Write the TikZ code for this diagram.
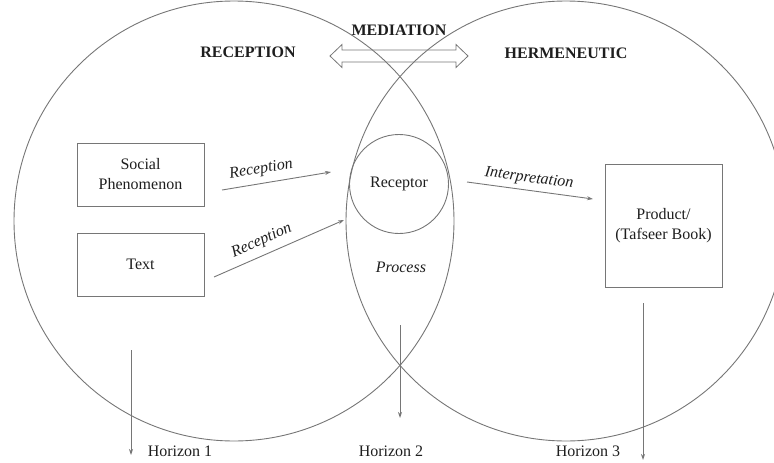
\documentclass[tikz,border=0pt]{standalone}
\usepackage{fontspec}
\setmainfont{Liberation Serif}
\usetikzlibrary{arrows.meta}
\definecolor{ln}{HTML}{767676}
\definecolor{tx}{HTML}{1E1E1E}
\begin{document}
\begin{tikzpicture}[x=1pt,y=-1pt,
  every node/.style={text=tx, font=\fontsize{16}{20}\selectfont},
  bigc/.style={circle, draw=ln, line width=0.9pt, minimum size=440pt, inner sep=0pt},
  boxn/.style={draw=ln, line width=1pt, align=center, inner sep=0pt},
  arr/.style={draw=ln, line width=0.9pt, -{Stealth[length=6pt,width=4pt]}},
  dblarr/.style={draw=ln, line width=0.8pt, line join=miter},
  lab/.style={font=\itshape\fontsize{16}{20}\selectfont},
  head/.style={font=\bfseries\fontsize{16}{20}\selectfont}]
\useasboundingbox (0,0) rectangle (774,463);
% big circles
\node[bigc] (lc) at (234,221) {};
\node[bigc] (rc) at (566,221) {};
% headings
\node[head] (med) at (399,30) {MEDIATION};
\node[head] (rcp) at (248,52) {RECEPTION};
\node[head] (her) at (566,53) {HERMENEUTIC};
% mediation double arrow (outline)
\coordinate (dbl) at (399,56);
\draw[dblarr] ([xshift=-69pt]dbl) -- ++(12,-11.5) -- ++(0,5.5) -- ++(114,0) -- ++(0,-5.5)
  -- ++(12,11.5) -- ++(-12,11.5) -- ++(0,-5.5) -- ++(-114,0) -- ++(0,5.5) -- cycle;
% boxes
\node[boxn, minimum width=127pt, minimum height=63pt] (soc) at (140.5,174.5) {Social\\Phenomenon};
\node[boxn, minimum width=127pt, minimum height=63pt] (txt) at (140.5,264.5) {Text};
\node[boxn, minimum width=117pt, minimum height=123pt] (prod) at (663.5,225.5) {Product/\\(Tafseer Book)};
\node[circle, draw=ln, line width=0.9pt, minimum size=99pt, inner sep=0pt] (rec) at (399,184) {Receptor};
\node[lab] (proc) at (401,267) {Process};
% reception arrows
\coordinate (r1s) at (222,190);
\coordinate (r1e) at (331,172);
\draw[arr] (r1s) -- node[lab, above=3pt, sloped, pos=0.38] (l1) {Reception} (r1e);
\coordinate (r2s) at (214,277);
\coordinate (r2e) at (344,220);
\draw[arr] (r2s) -- node[lab, above=3pt, sloped, pos=0.41] (l2) {Reception} (r2e);
\coordinate (ins) at (467,182);
\coordinate (ine) at (593,199);
\draw[arr] (ins) -- node[lab, above=1pt, sloped, pos=0.48] (l3) {Interpretation} (ine);
% horizons
\node (h1) at (180,451) {Horizon 1};
\node (h2) at (391,451) {Horizon 2};
\node (h3) at (588,451) {Horizon 3};
\coordinate (v1s) at (131,350);
\coordinate (v1e) at (131,455);
\coordinate (v2s) at (400,325);
\coordinate (v2e) at (400,418);
\coordinate (v3s) at (643,303);
\coordinate (v3e) at (643,460);
\draw[arr] (v1s) -- (v1e);
\draw[arr] (v2s) -- (v2e);
\draw[arr] (v3s) -- (v3e);
\end{tikzpicture}
\end{document}
